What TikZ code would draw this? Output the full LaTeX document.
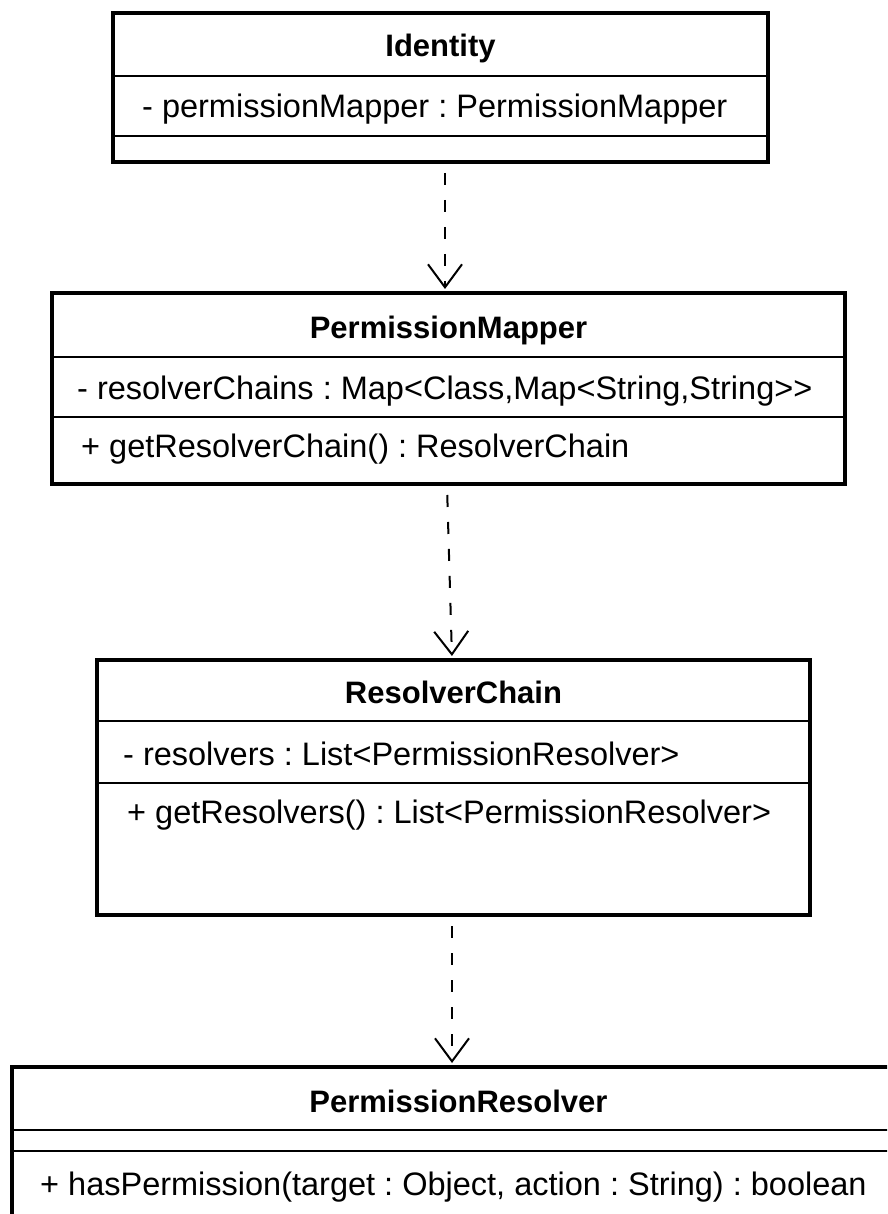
\documentclass[tikz,border=0pt]{standalone}
\usepackage{fontspec}
\setmainfont{Liberation Sans}
\usetikzlibrary{arrows.meta}
\tikzstyle{classbox}=[draw, line width=4pt, inner sep=0pt]
\tikzstyle{compsep}=[draw, line width=1.8pt]
\tikzstyle{classname}=[anchor=base, inner sep=0pt, font=\fontsize{31}{37}\selectfont\bfseries]
\tikzstyle{member}=[anchor=base west, inner sep=0pt, font=\fontsize{32.5}{39}\selectfont\frenchspacing]
\tikzstyle{depend}=[draw, line width=2pt, dash pattern=on 12pt off 15pt, shorten <=9pt, shorten >=2pt, -{Straight Barb[length=23pt,width=34pt]}]

\begin{document}
\begin{tikzpicture}[x=1pt, y=-1pt]

    \useasboundingbox (0,0) rectangle (887,1214);
    \clip (0,0) rectangle (887,1214);

    % class boxes
    \foreach \name/\xa/\ya/\xb/\yb in {identity/113/13/768/162, mapper/52/293/845/484, chain/97/660/810/915, resolver/12/1067/905/1240}
        \node[classbox, minimum width=(\xb-\xa)*1pt, minimum height=(\yb-\ya)*1pt] (\name) at ({(\xa+\xb)/2}, {(\ya+\yb)/2}) {};

    % compartments
    \foreach \name/\y in {identity/76, identity/136, mapper/357, mapper/417, chain/721, chain/783, resolver/1130, resolver/1151}
        \path[compsep] (\name.west |- 0,\y) -- (\name.east |- 0,\y);

    \foreach \name/\y/\txt in {identity/57/Identity, mapper/338/PermissionMapper, chain/703/ResolverChain, resolver/1112/PermissionResolver}
        \node[classname] (\name-title) at (\name.north |- 0,\y) {\txt};

    \foreach \name/\x/\y/\txt in {idattr/142/118/{- permissionMapper : PermissionMapper},
                                  mapattr/77/399/{- resolverChains : Map<Class,Map<String,String>{}>},
                                  mapop/81/457/{+ getResolverChain() : ResolverChain},
                                  chainattr/123/765/{- resolvers : List<PermissionResolver>},
                                  chainop/127/823/{+ getResolvers() : List<PermissionResolver>},
                                  resop/40/1195/{+ hasPermission(target : Object, action : String) : boolean}}
        \node[member] (\name) at (\x, \y) {\txt};

    % dependencies
    \path[depend] ([xshift=4.5pt]identity.south) -- ([xshift=-3.5pt]mapper.north);
    \path[depend] ([xshift=-1.5pt]mapper.south) -- ([xshift=-1.5pt]chain.north);
    \path[depend] ([xshift=-1.5pt]chain.south) -- ([xshift=-6.5pt]resolver.north);

\end{tikzpicture}
\end{document}
